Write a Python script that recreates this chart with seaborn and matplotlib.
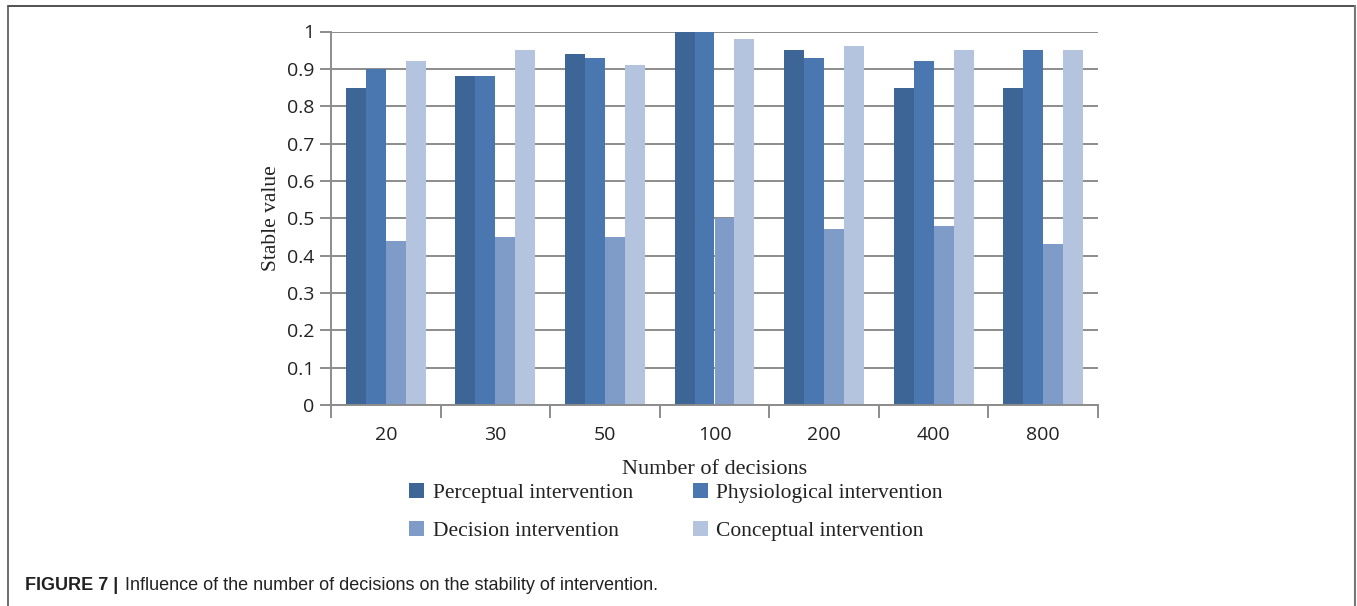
import matplotlib
matplotlib.use("Agg")
import matplotlib.pyplot as plt
import seaborn as sns
import pandas as pd
from matplotlib.lines import Line2D

categories = ["20", "30", "50", "100", "200", "400", "800"]
series_names = ["Perceptual intervention", "Physiological intervention",
                "Decision intervention", "Conceptual intervention"]
perceptual = [0.85, 0.88, 0.94, 1.00, 0.95, 0.85, 0.85]
physiological = [0.90, 0.88, 0.93, 1.00, 0.93, 0.92, 0.95]
decision = [0.44, 0.45, 0.45, 0.50, 0.47, 0.48, 0.43]
conceptual = [0.92, 0.95, 0.91, 0.98, 0.96, 0.95, 0.95]
ytick_values = [0, 0.1, 0.2, 0.3, 0.4, 0.5, 0.6, 0.7, 0.8, 0.9, 1]
ytick_labels = ["0", "0.1", "0.2", "0.3", "0.4", "0.5", "0.6", "0.7", "0.8", "0.9", "1"]

colors = ["#3D6596", "#4A77AF", "#7F9CC9", "#B4C4DF"]

rows = []
for name, vals in zip(series_names, [perceptual, physiological, decision, conceptual]):
    for c, v in zip(categories, vals):
        rows.append({"cat": c, "series": name, "value": v})
df = pd.DataFrame(rows)

sns.set_theme(style="white")
plt.rcParams["font.family"] = ["DejaVu Sans"]

W, H = 1357, 606
fig = plt.figure(figsize=(W / 100, H / 100), dpi=100)
ax = fig.add_axes([331 / W, 1 - 405 / H, (1098 - 331) / W, (405 - 31.5) / H])

sns.barplot(data=df, x="cat", y="value", hue="series", order=categories,
            hue_order=series_names, palette=colors, width=0.73, gap=0,
            saturation=1, edgecolor="none", linewidth=0, ax=ax, legend=True)

ax.set_ylim(0, 1)
ax.set_xlim(-0.5, len(categories) - 0.5)
ax.set_yticks(ytick_values)
ax.set_yticklabels(ytick_labels)
ax.yaxis.grid(True, color="#8c8c8c", linewidth=1.4)
ax.set_axisbelow(True)
for s in ["top", "right"]:
    ax.spines[s].set_visible(False)
for s in ["left", "bottom"]:
    ax.spines[s].set_color("#8c8c8c")
    ax.spines[s].set_linewidth(1.4)

# x ticks at category boundaries, labels at centres
ax.set_xticks([i - 0.5 for i in range(len(categories) + 1)])
ax.set_xticklabels([])
ax.set_xticks(range(len(categories)), minor=True)
ax.set_xticklabels(categories, minor=True)
ax.tick_params(axis="x", which="major", direction="out", length=9, width=1.4,
               color="#8c8c8c", bottom=True)
ax.tick_params(axis="x", which="minor", length=0, pad=15, labelsize=14,
               labelcolor="#222222")
ax.tick_params(axis="y", direction="out", length=8, width=1.4, color="#8c8c8c",
               left=True, labelsize=14, labelcolor="#222222", pad=4)
for lab in ax.get_xticklabels(minor=True) + ax.get_yticklabels():
    lab.set_fontfamily("Open Sans")

ax.set_xlabel("Number of decisions", fontfamily="Liberation Serif", fontsize=16,
              color="#222222", labelpad=12)
ax.set_ylabel("Stable value", fontfamily="Liberation Serif", fontsize=15.5,
              color="#222222", labelpad=4)

handles, labels = ax.get_legend_handles_labels()
ax.get_legend().remove()
order = [0, 2, 1, 3]
fig.legend([handles[i] for i in order], [labels[i] for i in order],
           loc="upper left", bbox_to_anchor=(409 / W, 1 - 483 / H), ncol=2,
           frameon=False, prop={"family": "Liberation Serif", "size": 15.5},
           handlelength=0.7, handleheight=0.7, handletextpad=0.4,
           columnspacing=2.78, labelspacing=0.85, borderpad=0, borderaxespad=0,
           labelcolor="#222222")

fig.text(25 / W, 1 - 586 / H, "FIGURE 7 |", fontfamily="Liberation Sans",
         fontweight="bold", fontsize=13, va="center", ha="left", color="#222222")
fig.text(125 / W, 1 - 586 / H,
         "Influence of the number of decisions on the stability of intervention.",
         fontfamily="Liberation Sans", fontsize=13, va="center", ha="left",
         color="#222222")

# frame around the figure
fig.add_artist(Line2D([8 / W, 1355 / W], [1 - 6 / H, 1 - 6 / H], transform=fig.transFigure,
                      color="#333333", linewidth=1.2))
fig.add_artist(Line2D([8 / W, 8 / W], [0, 1 - 6 / H], transform=fig.transFigure,
                      color="#555555", linewidth=1.2))
fig.add_artist(Line2D([1355 / W, 1355 / W], [0, 1 - 6 / H], transform=fig.transFigure,
                      color="#777777", linewidth=1.5))

fig.savefig("out.png", dpi=100)
